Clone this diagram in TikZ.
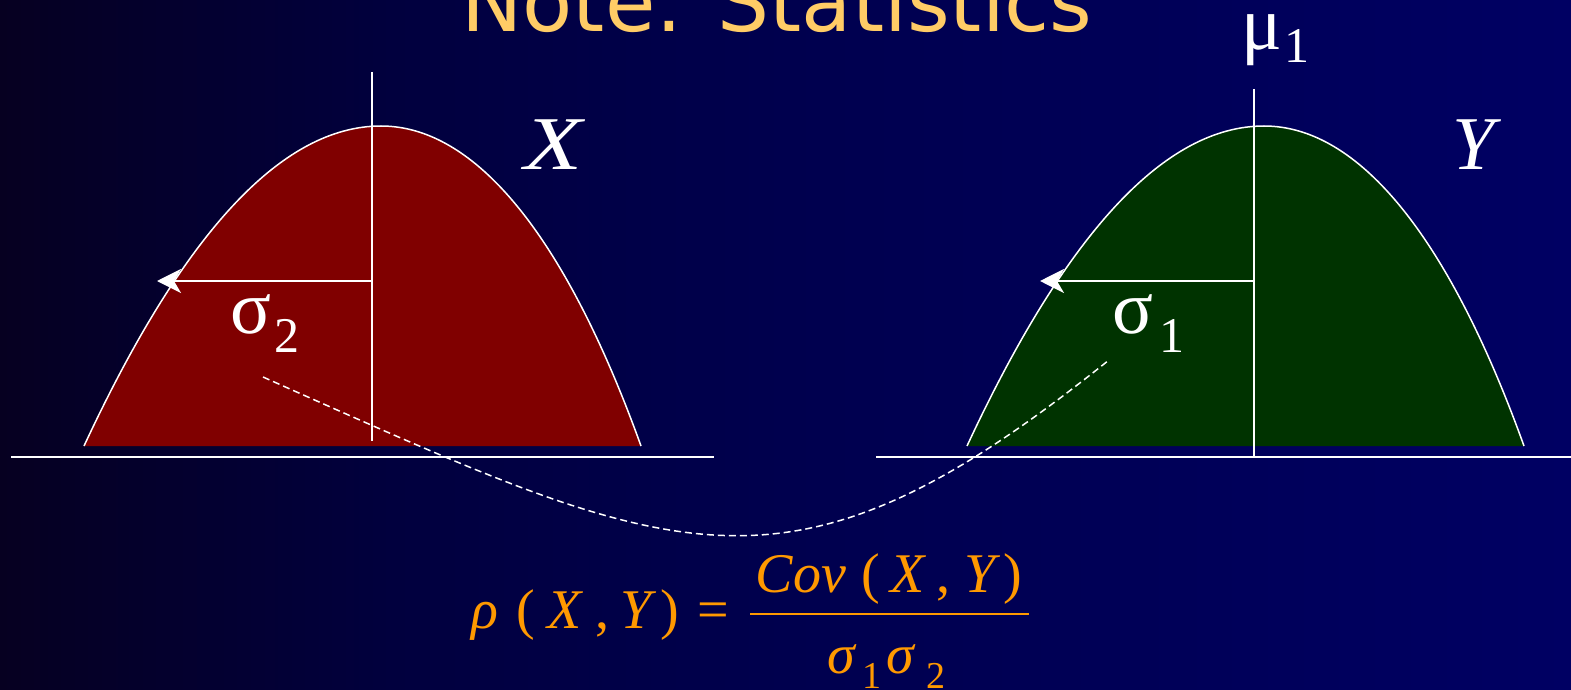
\documentclass[tikz,border=0pt]{standalone}
\usepackage{fontspec}
\setmainfont{Liberation Serif}
\newfontfamily\titlefont{DejaVu Sans}
\usetikzlibrary{arrows.meta}
\definecolor{bgA}{HTML}{060021}
\definecolor{bgB}{HTML}{01003E}
\definecolor{bgC}{HTML}{00004E}
\definecolor{bgD}{HTML}{000058}
\definecolor{bgE}{HTML}{000063}
\definecolor{titlecol}{HTML}{FFCC66}
\definecolor{fcol}{HTML}{FF9900}
\definecolor{xfill}{HTML}{800000}
\definecolor{yfill}{HTML}{003300}
\pgfdeclarehorizontalshading{bgshade}{100bp}{color(0bp)=(bgA); color(25bp)=(bgA); color(37.5bp)=(bgB); color(50bp)=(bgC); color(62.5bp)=(bgD); color(75bp)=(bgE); color(100bp)=(bgE)}
\tikzset{
  curveline/.style={white, line width=1.5pt},
  axisline/.style={white, line width=2pt},
  sdarrow/.style={white, line width=2pt, -{Stealth[length=24pt,width=24pt,inset=7pt]}},
  lbl/.style={text=white, inner sep=0pt, anchor=base west, font=\fontsize{76}{76}\selectfont},
  lbli/.style={lbl, font=\fontsize{76}{76}\selectfont\itshape},
  lblsub/.style={lbl, font=\fontsize{50}{50}\selectfont},
  fml/.style={text=fcol, inner sep=0pt, anchor=base, font=\fontsize{56}{56}\selectfont},
  fmli/.style={fml, font=\fontsize{56}{56}\selectfont\itshape},
  fmls/.style={fml, font=\fontsize{38}{38}\selectfont},
  dashlink/.style={white, line width=1.5pt, dash pattern=on 7pt off 4pt}
}
\begin{document}
\begin{tikzpicture}[x=1pt,y=-1pt]
\useasboundingbox (0,0) rectangle (1571,690);
\shade[shading=bgshade] (0,0) rectangle (1571,690);
% title
\node[text=titlecol, inner sep=0pt, anchor=base, font=\titlefont\fontsize{82}{82}\selectfont] (title) at (777,32) {Note: Statistics};
% X distribution
\fill[xfill] (84,446) .. controls (183,233) and (282,126) .. (381,126) .. controls (475,126) and (565,235) .. (641,446) -- cycle;
\draw[curveline] (84,446) .. controls (183,233) and (282,126) .. (381,126) .. controls (475,126) and (565,235) .. (641,446);
\coordinate (xtop) at (372,72);
\coordinate (xbot) at (372,441);
\draw[curveline] (xtop) -- (xbot);
\coordinate (xaxL) at (11,457);
\coordinate (xaxR) at (714,457);
\draw[axisline] (xaxL) -- (xaxR);
\coordinate (xmid) at (372,281);
\coordinate (xtip) at (157,281);
\draw[sdarrow] (xmid) -- (xtip);
% Y distribution
\fill[yfill] (967,446) .. controls (1066,233) and (1165,126) .. (1264,126) .. controls (1358,126) and (1448,235) .. (1524,446) -- cycle;
\draw[curveline] (967,446) .. controls (1066,233) and (1165,126) .. (1264,126) .. controls (1358,126) and (1448,235) .. (1524,446);
\coordinate (ytop) at (1254,89);
\coordinate (ybot) at (1254,456);
\draw[curveline] (ytop) -- (ybot);
\coordinate (yaxL) at (876,457);
\coordinate (yaxR) at (1571,457);
\draw[axisline] (yaxL) -- (yaxR);
\coordinate (ymid) at (1254,281);
\coordinate (ytip) at (1040,281);
\draw[sdarrow] (ymid) -- (ytip);
% labels
\node[lbli, anchor=base, xscale=1.25] (lx) at (554,169) {X};
\node[lbli] (ly) at (1452,169) {Y};
\node[lbl] (s2) at (230,333) {σ};
\node[lblsub] (s2n) at (274,352) {2};
\node[lbl] (s1) at (1112,333) {σ};
\node[lblsub] (s1n) at (1159,352) {1};
\node[lbl] (mu) at (1241,50) {μ};
\node[lblsub] (mun) at (1284,63) {1};
% dashed link
\coordinate (dA) at (263,377);
\coordinate (dB) at (1109,360);
\draw[dashlink] (dA) .. controls (679,562) and (785,620) .. (dB);
% formula
\node[fmli] (rho) at (485,628) {ρ};
\node[fml] (lp1) at (526,628) {(};
\node[fmli] (x1) at (565,628) {X};
\node[fml] (c1) at (602,628) {,};
\node[fmli] (y1) at (636,628) {Y};
\node[fml] (rp1) at (670,628) {)};
\node[fml] (eq) at (713,628) {=};
\node[fmli] (cov) at (801,592) {Cov};
\node[fml] (lp2) at (871,592) {(};
\node[fmli] (x2) at (908,592) {X};
\node[fml] (c2) at (943,592) {,};
\node[fmli] (y2) at (980,592) {Y};
\node[fml] (rp2) at (1013,592) {)};
\coordinate (barL) at (750,614);
\coordinate (barR) at (1029,614);
\draw[fcol, line width=2pt] (barL) -- (barR);
\node[fmli] (sg1) at (841,673) {σ};
\node[fmls] (one) at (872,688) {1};
\node[fmli] (sg2) at (900,673) {σ};
\node[fmls] (two) at (936,688) {2};
\end{tikzpicture}
\end{document}
